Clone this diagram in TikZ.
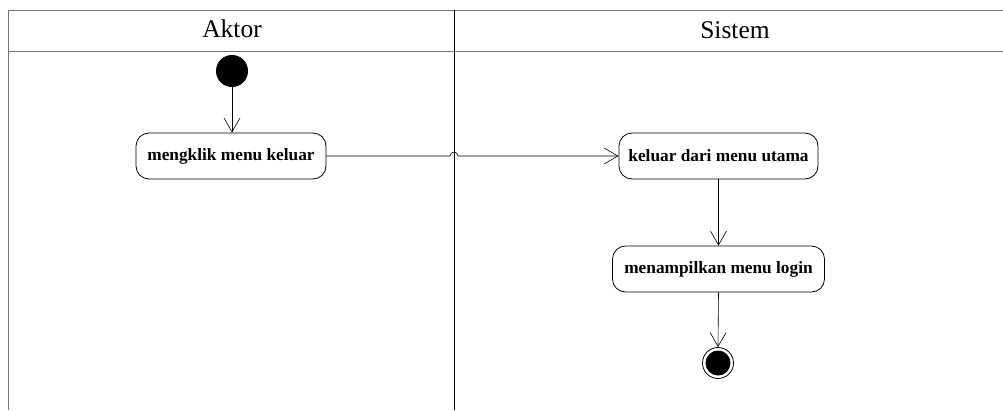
\documentclass[tikz,border=0pt]{standalone}
\usepackage{fontspec}
\setmainfont{Liberation Serif}
\usetikzlibrary{arrows.meta}
\tikzset{
  lane/.style={draw=black!55, line width=1pt},
  divider/.style={draw=black, line width=0.8pt},
  lanetitle/.style={anchor=base, font=\fontsize{25.5}{28}\selectfont},
  action/.style={draw, rounded corners=13pt, line width=0.8pt, minimum height=46pt,
    inner sep=0pt, font=\bfseries\fontsize{17.3}{20}\selectfont},
  flow/.style={draw, line width=0.6pt, -{Straight Barb[length=14pt,width=16pt,line width=0.6pt]}},
  initial/.style={circle, fill=black, minimum size=32pt, inner sep=0pt},
  final/.style={circle, draw, line width=0.8pt, minimum size=31pt, inner sep=0pt,
    path picture={\fill[black] (path picture bounding box.center) circle[radius=12.5pt];}}
}
\begin{document}
\begin{tikzpicture}[x=1pt,y=-1pt]
\useasboundingbox (0,0) rectangle (1003,410);
% swimlane frame
\coordinate (tl) at (8.5,10);
\coordinate (bl) at (8.5,410);
\coordinate (tr) at (1003,10);
\coordinate (hl) at (8.5,51);
\coordinate (hr) at (1003,51);
\coordinate (dt) at (454,10);
\coordinate (db) at (454,410);
\draw[lane] (tl) -- (bl);
\draw[lane] (tl) -- (tr);
\draw[lane] (hl) -- (hr);
\draw[divider] (dt) -- (db);
\node[lanetitle] (aktor) at (232,37) {Aktor};
\node[lanetitle] (sistem) at (735,38) {Sistem};
% activities
\node[initial] (start) at (232,71) {};
\node[action, minimum width=190pt] (b1) at (231,156) {mengklik menu keluar};
\node[action, minimum width=199pt] (b2) at (718.5,156) {keluar dari menu utama};
\node[action, minimum width=212pt] (b3) at (718.5,269) {menampilkan menu login};
\node[final] (stop) at (718,363) {};
% transitions
\draw[flow] (start) -- (b1.north -| start);
\draw[flow] (b1.east) -- ([xshift=-4pt]b1.east -| dt) arc[start angle=180,end angle=0,radius=4pt] -- (b2.west);
\draw[flow] (b2.south) -- (b3.north);
\draw[flow] (b3.south) -- (stop.north);
\end{tikzpicture}
\end{document}
